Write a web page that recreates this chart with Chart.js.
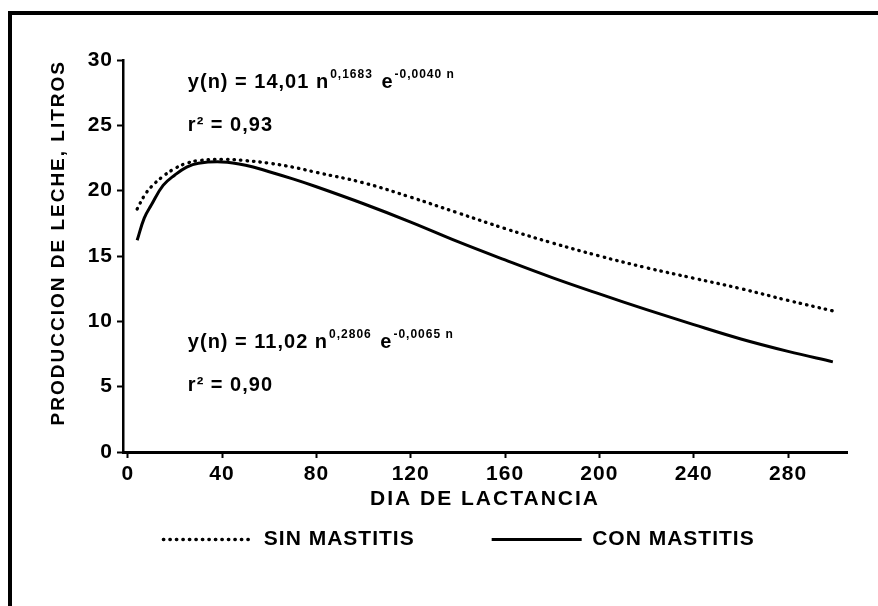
<!DOCTYPE html>
<html>
<head>
<meta charset="utf-8">
<script src="https://cdn.jsdelivr.net/npm/chart.js@4.4.1/dist/chart.umd.min.js"></script>
<style>
  html, body { margin: 0; padding: 0; background: #fff; }
  #wrap { position: relative; width: 878px; height: 606px; }
</style>
</head>
<body>
<div id="wrap"><canvas id="chart"></canvas></div>
<script>
// values
const days = [4, 7, 10, 15, 20, 25, 30, 40, 50, 60, 70, 80, 100, 120, 140, 160, 180, 200, 220, 240, 260, 280, 299];
const sinMastitis = [18.6, 19.6, 20.3, 21.1, 21.7, 22.1, 22.3, 22.4, 22.3, 22.1, 21.8, 21.4, 20.6, 19.5, 18.3, 17.1, 16.0, 15.0, 14.1, 13.3, 12.5, 11.6, 10.8];
const conMastitis = [16.2, 17.9, 18.9, 20.4, 21.2, 21.8, 22.1, 22.2, 21.95, 21.45, 20.9, 20.3, 19.0, 17.6, 16.1, 14.7, 13.35, 12.1, 10.9, 9.75, 8.65, 7.7, 6.9];
const seriesNames = ['SIN MASTITIS', 'CON MASTITIS'];
const xTicks = [0, 40, 80, 120, 160, 200, 240, 280];
const yTicks = [0, 5, 10, 15, 20, 25, 30];
const xTitle = 'DIA DE LACTANCIA';
const yTitle = 'PRODUCCION DE LECHE, LITROS';

// fitted curves printed on the chart: [text, superscript?]
const equationLines = [
  [['y(n) = 14,01 n', 0], ['0,1683', 1], [' e', 0], ['-0,0040 n', 1]],
  [['r² = 0,93', 0]],
  [['y(n) = 11,02 n', 0], ['0,2806', 1], [' e', 0], ['-0,0065 n', 1]],
  [['r² = 0,90', 0]]
];
// where each line starts, in axis units (day, litres)
const equationAnchors = [[25.5, 28.3], [25.5, 25.0], [25.5, 8.4], [25.5, 5.1]];

const FONT = "'Liberation Sans', Arial, Helvetica, sans-serif";
Chart.defaults.font.family = FONT;
Chart.defaults.font.weight = 'bold';
Chart.defaults.color = '#000';

const spacingPlugin = {
  id: 'spacing',
  beforeUpdate(chart) { chart.ctx.letterSpacing = '1px'; },
  afterLayout(chart) {
    ['x', 'y'].forEach(id => {
      const s = chart.scales[id];
      if (!s || s._patched) return;
      const draw = s.drawTitle;
      s.drawTitle = function () {
        this.ctx.save();
        this.ctx.letterSpacing = '2px';
        draw.call(this);
        this.ctx.restore();
      };
      // the x scale box is kept flat so the legend can sit close; don't clip its labels
      if (id === 'x') s._computeLabelArea = () => undefined;
      s._patched = true;
    });
  }
};

const equationPlugin = {
  id: 'equations',
  afterDatasetsDraw(chart) {
    const { ctx, scales: { x, y } } = chart;
    ctx.save();
    ctx.fillStyle = '#000';
    ctx.textBaseline = 'middle';
    ctx.textAlign = 'left';
    equationLines.forEach((parts, i) => {
      let px = x.getPixelForValue(equationAnchors[i][0]);
      const py = y.getPixelForValue(equationAnchors[i][1]);
      parts.forEach(([txt, sup]) => {
        ctx.font = sup ? 'bold 12px ' + FONT : 'bold 20px ' + FONT;
        ctx.fillText(txt, px, sup ? py - 8 : py);
        px += ctx.measureText(txt).width + (sup ? 2 : 1);
      });
    });
    ctx.restore();
  }
};

const framePlugin = {
  id: 'frame',
  afterDraw(chart) {
    const ctx = chart.ctx;
    ctx.save();
    ctx.fillStyle = '#000';
    ctx.fillRect(8, 11, chart.width - 8, 4);
    ctx.fillRect(8, 11, 4, chart.height - 11);
    ctx.restore();
  }
};

new Chart(document.getElementById('chart'), {
  type: 'line',
  data: {
    datasets: [
      {
        label: seriesNames[0],
        data: days.map((d, i) => ({ x: d, y: sinMastitis[i] })),
        borderColor: '#000',
        backgroundColor: '#000',
        borderWidth: 3.3,
        borderDash: [0.5, 6],
        borderCapStyle: 'round',
        pointRadius: 0,
        tension: 0.4,
        fill: false
      },
      {
        label: seriesNames[1],
        data: days.map((d, i) => ({ x: d, y: conMastitis[i] })),
        borderColor: '#000',
        backgroundColor: '#000',
        borderWidth: 3,
        pointRadius: 0,
        tension: 0.4,
        fill: false
      }
    ]
  },
  options: {
    responsive: true,
    maintainAspectRatio: false,
    animation: false,
    events: [],
    layout: { padding: { top: 60, right: 31, left: 71, bottom: 46 } },
    scales: {
      x: {
        type: 'linear',
        min: -2,
        max: 305,
        afterBuildTicks: s => { s.ticks = xTicks.map(v => ({ value: v })); },
        afterFit: s => { s.height = 0; },
        grid: { drawOnChartArea: false, drawTicks: true, tickLength: 6, tickWidth: 2, tickColor: '#000' },
        border: { display: true, color: '#000', width: 3 },
        ticks: { color: '#000', padding: 4, maxRotation: 0, autoSkip: false, font: { size: 21, weight: 'bold' } },
        title: { display: true, text: xTitle, color: '#000', font: { size: 21, weight: 'bold' }, padding: { top: 0, bottom: -59.6 } }
      },
      y: {
        min: 0,
        max: 30,
        afterBuildTicks: s => { s.ticks = yTicks.map(v => ({ value: v })); },
        afterFit: s => { s.width = 52; },
        grid: { drawOnChartArea: false, drawTicks: true, tickLength: 6, tickWidth: 2, tickColor: '#000' },
        border: { display: true, color: '#000', width: 2.5 },
        ticks: { color: '#000', padding: 4, font: { size: 21, weight: 'bold' } },
        title: { display: true, text: yTitle, align: 'end', color: '#000', font: { size: 19, weight: 'bold' }, padding: { top: -23.4, bottom: 0 } }
      }
    },
    plugins: {
      legend: {
        position: 'bottom',
        labels: {
          usePointStyle: true,
          pointStyle: 'line',
          pointStyleWidth: 90,
          padding: 77,
          color: '#000',
          font: { size: 21, weight: 'bold' },
          generateLabels(chart) {
            const items = Chart.defaults.plugins.legend.labels.generateLabels(chart);
            items.forEach(item => {
              const ds = chart.data.datasets[item.datasetIndex];
              item.lineDash = ds.borderDash || [];
              item.lineCap = ds.borderCapStyle || 'butt';
              item.lineWidth = ds.borderWidth;
            });
            return items;
          }
        }
      },
      tooltip: { enabled: false }
    }
  },
  plugins: [spacingPlugin, equationPlugin, framePlugin]
});
</script>
</body>
</html>
